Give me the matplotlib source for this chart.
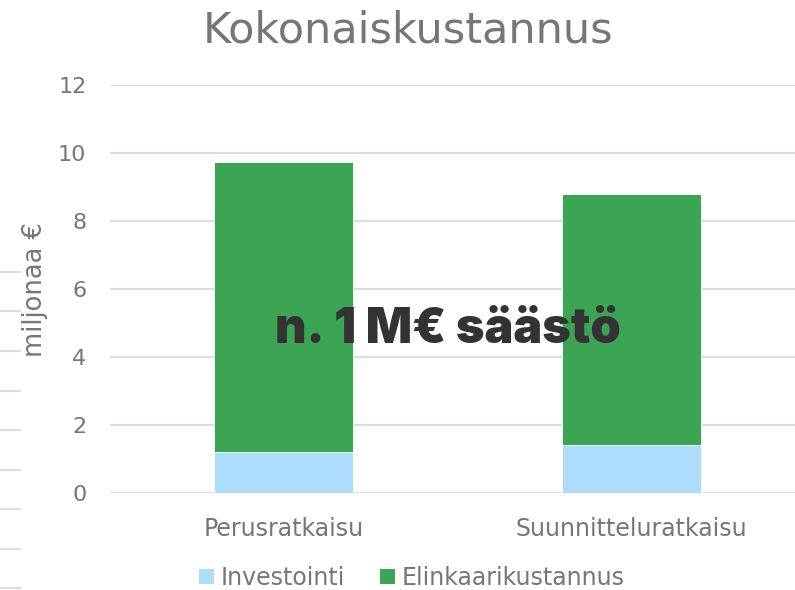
import matplotlib
matplotlib.use("Agg")
import matplotlib.pyplot as plt
from matplotlib.lines import Line2D
from matplotlib.patches import Patch
import numpy as np

categories = ["Perusratkaisu", "Suunnitteluratkaisu"]
investointi = [1.22, 1.43]
elinkaari = [8.52, 7.38]
series_names = ["Investointi", "Elinkaarikustannus"]
yticks = [0, 2, 4, 6, 8, 10, 12]
title = "Kokonaiskustannus"
ylabel = "miljonaa €"
note = "n. 1 M€ säästö"

c_inv = "#ADDDFD"
c_eli = "#3BA553"
txt = "#767676"
grid = "#DDDDDD"

W, H = 795, 590
fig = plt.figure(figsize=(W / 100, H / 100), dpi=100)
ax = fig.add_axes([110 / W, 96.7 / H, 685 / W, 408.3 / H])

x = np.arange(len(categories))
ax.bar(x, investointi, width=0.4, color=c_inv, edgecolor="white", linewidth=0.6, zorder=3)
ax.bar(x, elinkaari, bottom=investointi, width=0.4, color=c_eli, edgecolor="white",
       linewidth=0.6, zorder=3)

ax.set_xlim(-0.5, 1.5 - 10 / 347.5)
ax.set_ylim(0, 12)
ax.set_yticks(yticks)
ax.set_yticklabels([str(v) for v in yticks])
ax.set_xticks(x)
ax.set_xticklabels(categories, fontsize=17)
ax.yaxis.grid(True, color=grid, linewidth=1.5, zorder=0)
ax.set_axisbelow(True)
for s in ax.spines.values():
    s.set_visible(False)
ax.tick_params(axis="both", length=0, labelcolor=txt)
ax.tick_params(axis="y", pad=17, labelsize=16)
ax.tick_params(axis="x", pad=17)

fig.text(35 / W, 1 - 290 / H, ylabel, rotation=90, ha="center", va="center",
         fontsize=18.5, color=txt)
fig.text(408.5 / W, 1 - 42.7 / H, title, ha="center", va="baseline", fontsize=31, color=txt)

fig.text(447.5 / W, 1 - 343 / H, note, ha="center", va="baseline", fontsize=35,
         color="#333333", family=["Inter", "Open Sans", "DejaVu Sans"], fontweight="black")

handles = [Patch(facecolor=c_inv, edgecolor="none"), Patch(facecolor=c_eli, edgecolor="none")]
fig.legend(handles, series_names, loc="center", bbox_to_anchor=(412 / W, 1 - 578 / H),
           ncol=2, frameon=False, fontsize=17, labelcolor=txt, handlelength=0.6,
           handleheight=0.6, handletextpad=0.3, columnspacing=1.5)

# faint left-edge decorative strokes
for yy in 272 + 39.5 * np.arange(9):
    fig.add_artist(Line2D([0, 20 / W], [1 - yy / H, 1 - yy / H], color=grid, linewidth=1.5))

fig.savefig("out.png", dpi=100)
